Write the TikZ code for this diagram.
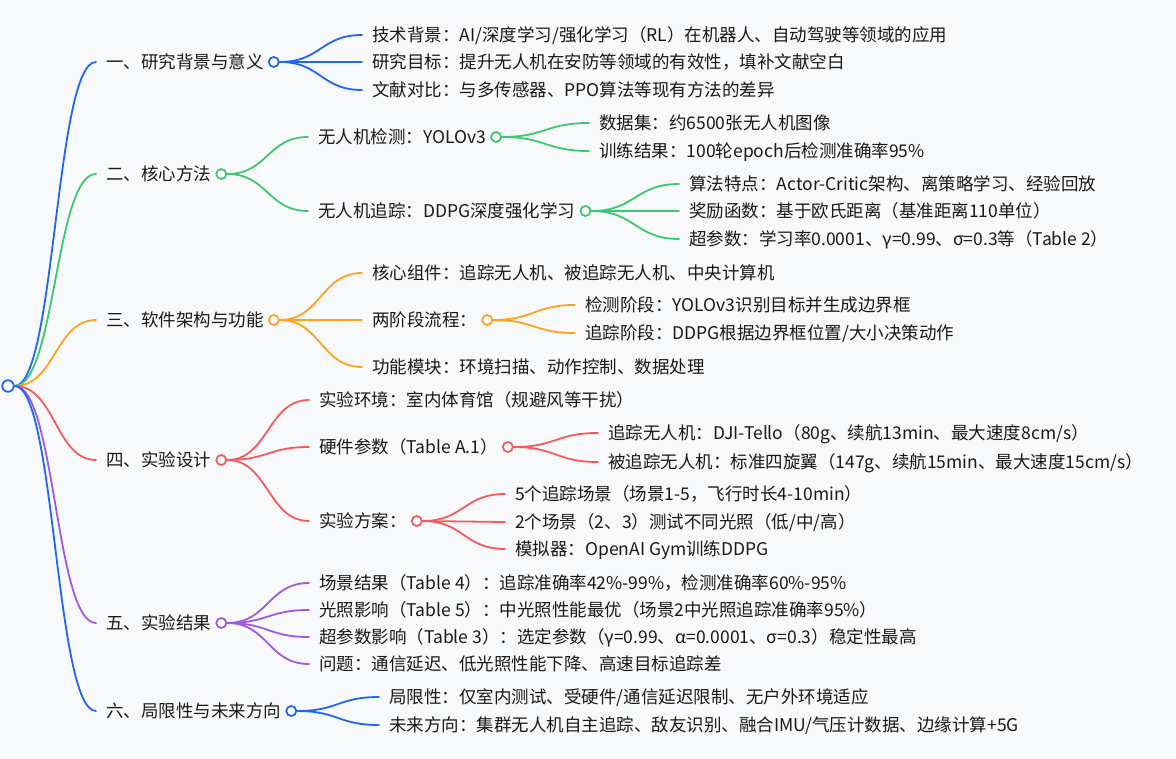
\documentclass[tikz,border=0pt]{standalone}
\usepackage{fontspec}
\usepackage{xcolor}
\usepackage{tikz}
\usetikzlibrary{positioning, calc}
\newfontfamily\cjk{Noto Sans CJK SC}
\definecolor{mmblue}{HTML}{1F66F0}
\definecolor{mmgreen}{HTML}{3CC872}
\definecolor{mmorange}{HTML}{FFA020}
\definecolor{mmred}{HTML}{F55A5F}
\definecolor{mmpurple}{HTML}{A05AE0}
\definecolor{paper}{HTML}{F8F9FB}
% curved branch: from a point to 10pt left of a text node
\newcommand\mmlink[3]{\draw[link, #1] let \p1=(#2), \p2=([xshift=-10pt]#3.west) in
  (\p1) .. controls ({(\x1+\x2)/2},\y1) and ({(\x1+\x2)/2},\y2) .. (\p2);}

\begin{document}
\begin{tikzpicture}[x=1pt, y=-1pt,
  item/.style={anchor=west, inner sep=0pt, text height=15.4pt, text depth=2.1pt,
    font=\cjk\fontsize{17.5}{21}\selectfont, text=black!90},
  knot/.style={circle, draw=#1, fill=white, line width=1.8pt, minimum size=10pt, inner sep=0pt},
  link/.style={line width=1.8pt, line cap=round}
]
  \fill[paper] (0,0) rectangle (1176,759);
  \useasboundingbox (0,0) rectangle (1176,759);

  \node[knot=mmblue, minimum size=11.5pt] (root) at (8,386) {};

  % level 1
  \node[item] (b1) at (106,62) {一、研究背景与意义};
  \node[item] (b2) at (106,174) {二、核心方法};
  \node[item] (b3) at (106,320) {三、软件架构与功能};
  \node[item] (b4) at (106,460) {四、实验设计};
  \node[item] (b5) at (106,623) {五、实验结果};
  \node[item] (b6) at (106,711) {六、局限性与未来方向};

  % 一
  \node[item] (b11) at (372,35) {技术背景：AI/深度学习/强化学习（RL）在机器人、自动驾驶等领域的应用};
  \node[item] (b12) at (372,62) {研究目标：提升无人机在安防等领域的有效性，填补文献空白};
  \node[item] (b13) at (372,90) {文献对比：与多传感器、PPO算法等现有方法的差异};

  % 二
  \node[item] (b21) at (318,137) {无人机检测：YOLOv3};
  \node[item] (b22) at (318,211) {无人机追踪：DDPG深度强化学习};
  \node[item] (b211) at (599,123) {数据集：约6500张无人机图像};
  \node[item] (b212) at (599,151) {训练结果：100轮epoch后检测准确率95\%};
  \node[item] (b221) at (689,184) {算法特点：Actor-Critic架构、离策略学习、经验回放};
  \node[item] (b222) at (689,211) {奖励函数：基于欧氏距离（基准距离110单位）};
  \node[item] (b223) at (689,239) {超参数：学习率0.0001、γ=0.99、σ=0.3等（Table 2）};

  % 三
  \node[item] (b31) at (372,273) {核心组件：追踪无人机、被追踪无人机、中央计算机};
  \node[item] (b32) at (372,320) {两阶段流程：};
  \node[item] (b33) at (372,367) {功能模块：环境扫描、动作控制、数据处理};
  \node[item] (b321) at (585,305) {检测阶段：YOLOv3识别目标并生成边界框};
  \node[item] (b322) at (585,333) {追踪阶段：DDPG根据边界框位置/大小决策动作};

  % 四
  \node[item] (b41) at (319,400) {实验环境：室内体育馆（规避风等干扰）};
  \node[item] (b42) at (319,447) {硬件参数（Table A.1）};
  \node[item] (b43) at (319,521) {实验方案：};
  \node[item] (b421) at (608,433) {追踪无人机：DJI-Tello（80g、续航13min、最大速度8cm/s）};
  \node[item] (b422) at (608,462) {被追踪无人机：标准四旋翼（147g、续航15min、最大速度15cm/s）};
  \node[item] (b431) at (515,494) {5个追踪场景（场景1-5，飞行时长4-10min）};
  \node[item] (b432) at (515,522) {2个场景（2、3）测试不同光照（低/中/高）};
  \node[item] (b433) at (515,549) {模拟器：OpenAI Gym训练DDPG};

  % 五
  \node[item] (b51) at (319,583) {场景结果（Table 4）：追踪准确率42\%-99\%，检测准确率60\%-95\%};
  \node[item] (b52) at (319,610) {光照影响（Table 5）：中光照性能最优（场景2中光照追踪准确率95\%）};
  \node[item] (b53) at (319,637) {超参数影响（Table 3）：选定参数（γ=0.99、α=0.0001、σ=0.3）稳定性最高};
  \node[item] (b54) at (319,664) {问题：通信延迟、低光照性能下降、高速目标追踪差};

  % 六
  \node[item] (b61) at (389,697) {局限性：仅室内测试、受硬件/通信延迟限制、无户外环境适应};
  \node[item] (b62) at (389,725) {未来方向：集群无人机自主追踪、敌友识别、融合IMU/气压计数据、边缘计算+5G};

  % knots after the texts
  \node[knot=mmblue, right=4pt of b1] (b1o) {};
  \node[knot=mmgreen, right=4pt of b2] (b2o) {};
  \node[knot=mmorange, right=4pt of b3] (b3o) {};
  \node[knot=mmred, right=4pt of b4] (b4o) {};
  \node[knot=mmpurple, right=4pt of b5] (b5o) {};
  \node[knot=mmblue, right=4pt of b6] (b6o) {};
  \node[knot=mmgreen, right=4pt of b21] (b21o) {};
  \node[knot=mmgreen, right=4pt of b22] (b22o) {};
  \node[knot=mmorange, right=4pt of b32] (b32o) {};
  \node[knot=mmred, right=4pt of b42] (b42o) {};
  \node[knot=mmred, right=4pt of b43] (b43o) {};

  % branches
  \foreach \b/\col in {b1/mmblue, b2/mmgreen, b3/mmorange, b4/mmred, b5/mmpurple, b6/mmblue}
    \mmlink{\col}{root.east}{\b};
  \foreach \c in {b11, b12, b13} \mmlink{mmblue}{b1o.east}{\c};
  \foreach \c in {b21, b22} \mmlink{mmgreen}{b2o.east}{\c};
  \foreach \c in {b211, b212} \mmlink{mmgreen}{b21o.east}{\c};
  \foreach \c in {b221, b222, b223} \mmlink{mmgreen}{b22o.east}{\c};
  \foreach \c in {b31, b32, b33} \mmlink{mmorange}{b3o.east}{\c};
  \foreach \c in {b321, b322} \mmlink{mmorange}{b32o.east}{\c};
  \foreach \c in {b41, b42, b43} \mmlink{mmred}{b4o.east}{\c};
  \foreach \c in {b421, b422} \mmlink{mmred}{b42o.east}{\c};
  \foreach \c in {b431, b432, b433} \mmlink{mmred}{b43o.east}{\c};
  \foreach \c in {b51, b52, b53, b54} \mmlink{mmpurple}{b5o.east}{\c};
  \foreach \c in {b61, b62} \mmlink{mmblue}{b6o.east}{\c};
\end{tikzpicture}
\end{document}
